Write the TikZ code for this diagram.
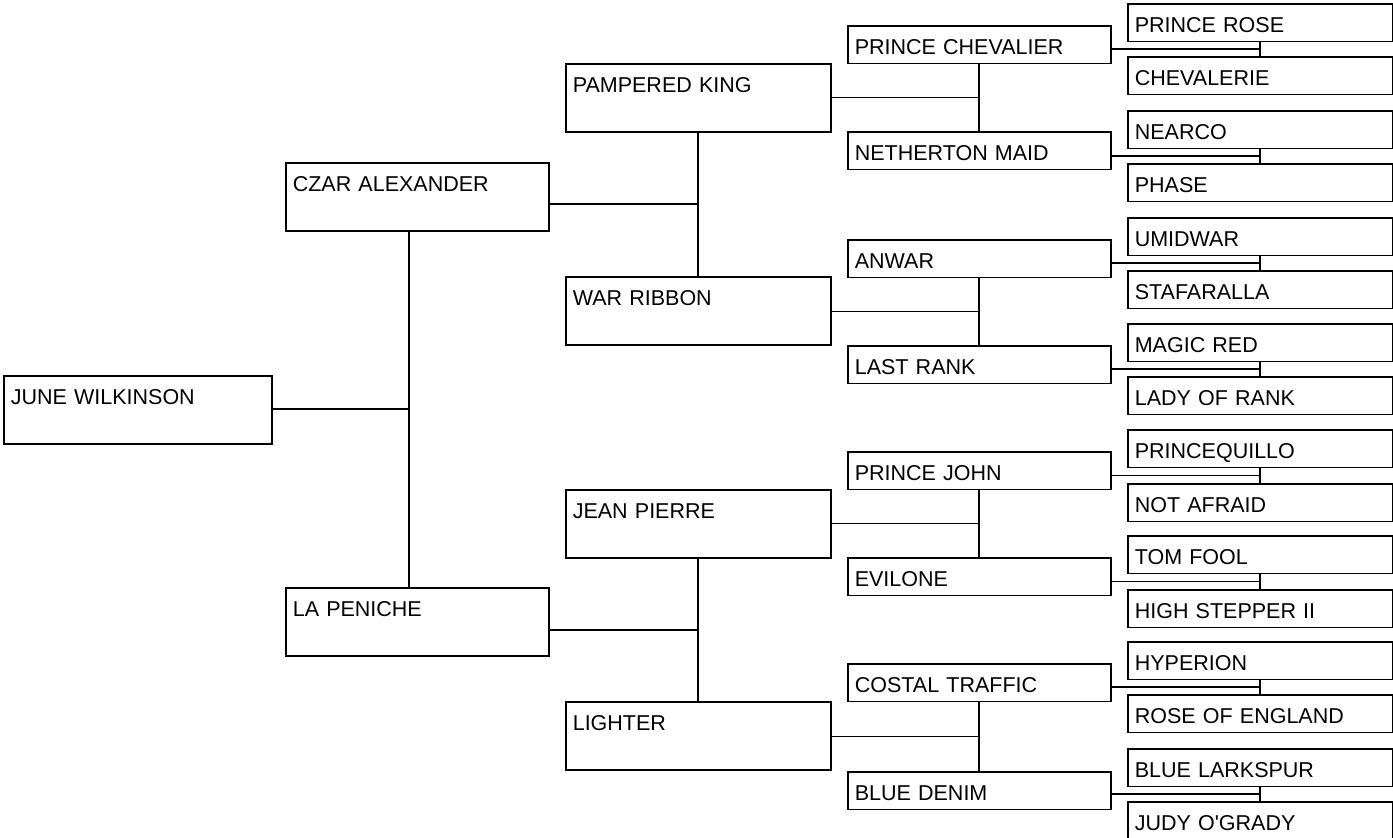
\documentclass[tikz,border=0pt]{standalone}
\usepackage{fontspec}
\setmainfont{Liberation Sans}
\tikzset{
  horse/.style={draw, line width=1.6pt, anchor=north west, align=left, inner xsep=7pt, inner ysep=0pt, text height=28.5pt, font=\fontsize{21.5}{25}\selectfont},
  tallbox/.style={horse, text width=#1, text depth=39.5pt},
  flatbox/.style={horse, text width=#1, text depth=9pt},
  link/.style={line width=1.7pt}
}
\begin{document}
\begin{tikzpicture}[x=1pt,y=-1pt]
          \useasboundingbox (0,0) rectangle (1393,838);

          % Draw the horse itself
          \node[tallbox=254pt] (JW) at (3,375) {JUNE WILKINSON};

          % Draw the parents
          \node[tallbox=249pt] (CA) at (285,162) {CZAR ALEXANDER};
          \node[tallbox=249pt] (LP) at (285,587) {LA PENICHE};

          % Draw the grandparents
          \node[tallbox=251pt] (PK) at (565,63) {PAMPERED KING};
          \node[tallbox=251pt] (WR) at (565,276) {WAR RIBBON};
          \node[tallbox=251pt] (JP) at (565,489) {JEAN PIERRE};
          \node[tallbox=251pt] (LI) at (565,701) {LIGHTER};

          % Draw the great-grandparents
          \node[flatbox=249pt] (PC) at (847,25) {PRINCE CHEVALIER};
          \node[flatbox=249pt] (NM) at (847,131) {NETHERTON MAID};
          \node[flatbox=249pt] (AN) at (847,239) {ANWAR};
          \node[flatbox=249pt] (LR) at (847,345) {LAST RANK};
          \node[flatbox=249pt] (PJ) at (847,451) {PRINCE JOHN};
          \node[flatbox=249pt] (EV) at (847,557) {EVILONE};
          \node[flatbox=249pt] (CT) at (847,663) {COSTAL TRAFFIC};
          \node[flatbox=249pt] (BD) at (847,771) {BLUE DENIM};

          % Draw the great-great-grandparents
          \node[flatbox=251pt] (PRo) at (1127,3) {PRINCE ROSE};
          \node[flatbox=251pt] (CHe) at (1127,56) {CHEVALERIE};
          \node[flatbox=251pt] (NEa) at (1127,110) {NEARCO};
          \node[flatbox=251pt] (PHa) at (1127,163) {PHASE};
          \node[flatbox=251pt] (UMi) at (1127,217) {UMIDWAR};
          \node[flatbox=251pt] (STa) at (1127,270) {STAFARALLA};
          \node[flatbox=251pt] (MRe) at (1127,323) {MAGIC RED};
          \node[flatbox=251pt] (LoR) at (1127,376) {LADY OF RANK};
          \node[flatbox=251pt] (PQu) at (1127,429) {PRINCEQUILLO};
          \node[flatbox=251pt] (NAf) at (1127,483) {NOT AFRAID};
          \node[flatbox=251pt] (TFo) at (1127,535) {TOM FOOL};
          \node[flatbox=251pt] (HSt) at (1127,589) {HIGH STEPPER II};
          \node[flatbox=251pt] (HYp) at (1127,641) {HYPERION};
          \node[flatbox=251pt] (RoE) at (1127,694) {ROSE OF ENGLAND};
          \node[flatbox=251pt] (BLa) at (1127,748) {BLUE LARKSPUR};
          \node[flatbox=251pt] (JOG) at (1127,801) {JUDY O\textquotesingle GRADY};

          % Draw the sire-dam brackets, generation 1
          \draw[link] ([xshift=-8pt]CA.south) -- coordinate (mJW) ([xshift=-8pt]LP.north);
          \draw[link] (mJW -| JW.east) -- (mJW);

          % generation 2
          \draw[link] (PK.south) -- coordinate (mCA) (WR.north);
          \draw[link] (mCA -| CA.east) -- (mCA);
          \draw[link] (JP.south) -- coordinate (mLP) (LI.north);
          \draw[link] (mLP -| LP.east) -- (mLP);

          % generation 3
          \draw[link] (PC.south) -- coordinate (mPK) (NM.north);
          \draw[link] (mPK -| PK.east) -- (mPK);
          \draw[link] (AN.south) -- coordinate (mWR) (LR.north);
          \draw[link] (mWR -| WR.east) -- (mWR);
          \draw[link] (PJ.south) -- coordinate (mJP) (EV.north);
          \draw[link] (mJP -| JP.east) -- (mJP);
          \draw[link] (CT.south) -- coordinate (mLI) (BD.north);
          \draw[link] (mLI -| LI.east) -- (mLI);

          % generation 4
          \draw[link] (PRo.south) -- coordinate (mPC) (CHe.north);
          \draw[link] (mPC -| PC.east) -- (mPC);
          \draw[link] (NEa.south) -- coordinate (mNM) (PHa.north);
          \draw[link] (mNM -| NM.east) -- (mNM);
          \draw[link] (UMi.south) -- coordinate (mAN) (STa.north);
          \draw[link] (mAN -| AN.east) -- (mAN);
          \draw[link] (MRe.south) -- coordinate (mLR) (LoR.north);
          \draw[link] (mLR -| LR.east) -- (mLR);
          \draw[link] (PQu.south) -- coordinate (mPJ) (NAf.north);
          \draw[link] (mPJ -| PJ.east) -- (mPJ);
          \draw[link] (TFo.south) -- coordinate (mEV) (HSt.north);
          \draw[link] (mEV -| EV.east) -- (mEV);
          \draw[link] (HYp.south) -- coordinate (mCT) (RoE.north);
          \draw[link] (mCT -| CT.east) -- (mCT);
          \draw[link] (BLa.south) -- coordinate (mBD) (JOG.north);
          \draw[link] (mBD -| BD.east) -- (mBD);
        \end{tikzpicture}
\end{document}
